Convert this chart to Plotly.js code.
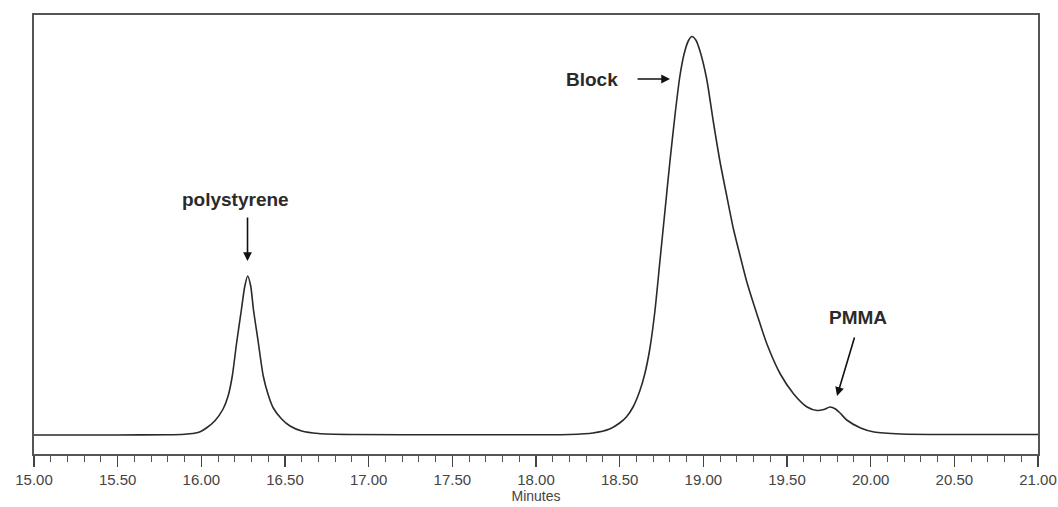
<!DOCTYPE html>
<html>
<head>
<meta charset="utf-8">
<script src="https://cdn.plot.ly/plotly-3.0.1.min.js"></script>
<style>html,body{margin:0;padding:0;background:#fff}#chart{width:1058px;height:507px}</style>
</head>
<body>
<div id="chart"></div>
<script>
// Retention time (minutes)
const minutes = [15.0, 15.5, 15.8, 15.9, 15.95, 15.99, 16.03, 16.08, 16.13, 16.16, 16.185, 16.21, 16.24, 16.26, 16.277, 16.295, 16.311, 16.34, 16.37, 16.40, 16.43, 16.48, 16.53, 16.6, 16.7, 16.9, 17.5, 18.0, 18.2, 18.34, 18.44, 18.50, 18.54, 18.58, 18.62, 18.65, 18.68, 18.71, 18.74, 18.77, 18.80, 18.83, 18.86, 18.885, 18.91, 18.932, 18.955, 18.98, 19.02, 19.06, 19.10, 19.14, 19.18, 19.22, 19.26, 19.32, 19.38, 19.46, 19.54, 19.62, 19.68, 19.72, 19.757, 19.79, 19.817, 19.857, 19.94, 20.02, 20.18, 20.5, 21.0];
// Detector response (arbitrary units)
const response = [19, 19, 19.3, 19.8, 20.5, 22, 26, 33, 45, 58, 78, 110, 145, 168, 178, 168, 145, 112, 78, 59, 46, 35, 28, 23, 20.5, 19.5, 19.3, 19.3, 19.5, 21, 25, 31, 37, 47, 63, 80, 105, 142, 192, 242, 292, 338, 378, 400, 413, 417.5, 414, 403, 375, 332, 292, 258, 225, 198, 172, 140, 110, 80, 60, 47, 43.5, 44.5, 47, 45, 41, 34, 26, 22, 20, 19.5, 19.5];

// Peak labels
const labelText = ["polystyrene", "Block", "PMMA"];
const labelX = [16.207, 18.333, 19.924];
const labelY = [255, 375, 137];
const arrowTipX = [16.276, 18.801, 19.799];
const arrowTipY = [193, 375, 58];
const arrowTailX = [16.276, 18.598, 19.906];
const arrowTailY = [238, 375, 118];

const tickVals = [15, 15.5, 16, 16.5, 17, 17.5, 18, 18.5, 19, 19.5, 20, 20.5, 21];

const annotations = [];
labelText.forEach((t, i) => {
  annotations.push({
    x: labelX[i], y: labelY[i], xref: 'x', yref: 'y', text: '<b>' + t + '</b>', showarrow: false,
    font: {family: 'Liberation Sans, Arial, sans-serif', size: 19, color: '#2a2a2a'}
  });
  annotations.push({
    x: arrowTipX[i], y: arrowTipY[i], xref: 'x', yref: 'y',
    ax: arrowTailX[i], ay: arrowTailY[i], axref: 'x', ayref: 'y',
    text: '', showarrow: true, arrowhead: 2, arrowsize: 1.1, arrowwidth: 1.6,
    arrowcolor: '#111', standoff: 0, startstandoff: 0
  });
});

const trace = {
  x: minutes, y: response, type: 'scatter', mode: 'lines',
  line: {color: '#2a2a2a', width: 1.6, shape: 'spline', smoothing: 0.7},
  hoverinfo: 'skip'
};

const layout = {
  width: 1058, height: 507,
  margin: {l: 34, r: 20, t: 15, b: 53},
  paper_bgcolor: '#fff', plot_bgcolor: '#fff',
  showlegend: false,
  xaxis: {
    range: [15, 21], tickvals: tickVals, tickformat: '.2f',
    ticks: 'outside', ticklen: 11, tickwidth: 1.2, tickcolor: '#444',
    minor: {dtick: 0.1, ticks: 'outside', ticklen: 6, tickwidth: 1, tickcolor: '#555', showgrid: false},
    showline: true, linecolor: '#555', linewidth: 2, mirror: true,
    showgrid: false, zeroline: false,
    tickfont: {family: 'Liberation Sans, Arial, sans-serif', size: 15, color: '#444'},
    title: {text: 'Minutes', font: {family: 'Liberation Sans, Arial, sans-serif', size: 14, color: '#444'}, standoff: 0}
  },
  yaxis: {
    range: [0, 439], showticklabels: false, ticks: '',
    showline: true, linecolor: '#555', linewidth: 2, mirror: true,
    showgrid: false, zeroline: false
  },
  annotations: annotations
};

Plotly.newPlot('chart', [trace], layout, {displayModeBar: false, staticPlot: true});
</script>
</body>
</html>
